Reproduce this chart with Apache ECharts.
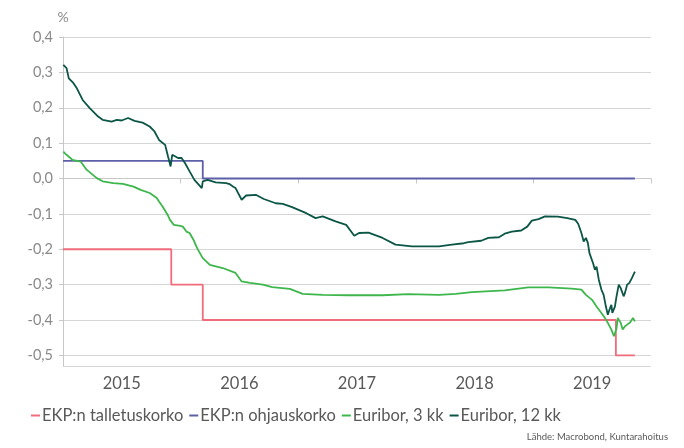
<!DOCTYPE html>
<html>
<head>
<meta charset="utf-8">
<script src="https://cdn.jsdelivr.net/npm/echarts@6/dist/echarts.min.js"></script>
<style>
  html, body { margin: 0; padding: 0; background: #ffffff; }
  #chart { width: 684px; height: 448px; }
</style>
</head>
<body>
<div id="chart"></div>
<script>
// ---- Data ----
const years = ['2015', '2016', '2017', '2018', '2019'];
const seriesNames = ['EKP:n talletuskorko', 'EKP:n ohjauskorko', 'Euribor, 3 kk', 'Euribor, 12 kk'];
const sourceText = 'Lähde: Macrobond, Kuntarahoitus';
const unitLabel = '%';

// ECB deposit rate (step changes)
const depositRate = [
  ['2015-01-01', -0.20], ['2015-12-03', -0.30], ['2016-03-10', -0.40],
  ['2019-09-14', -0.50], ['2019-11-12', -0.50]
];
// ECB main refinancing rate (step changes)
const refiRate = [
  ['2015-01-01', 0.05], ['2016-03-10', 0.00], ['2019-11-12', 0.00]
];
// Euribor 3 months
const euribor3m = [
  ['2015-01-02', 0.076], ['2015-01-12', 0.067], ['2015-01-30', 0.053], ['2015-02-25', 0.048],
  ['2015-03-15', 0.025], ['2015-04-16', 0.001], ['2015-05-04', -0.008], ['2015-06-06', -0.013],
  ['2015-07-06', -0.015], ['2015-08-08', -0.023], ['2015-08-30', -0.032], ['2015-09-27', -0.041],
  ['2015-10-19', -0.055], ['2015-10-26', -0.065], ['2015-11-06', -0.079], ['2015-11-22', -0.103],
  ['2015-11-29', -0.117], ['2015-12-03', -0.121], ['2015-12-11', -0.131], ['2015-12-31', -0.134],
  ['2016-01-08', -0.136], ['2016-01-19', -0.150], ['2016-01-29', -0.154], ['2016-02-10', -0.173],
  ['2016-02-19', -0.192], ['2016-02-24', -0.201], ['2016-03-10', -0.225], ['2016-04-01', -0.244],
  ['2016-05-11', -0.253], ['2016-06-20', -0.267], ['2016-07-09', -0.291], ['2016-08-04', -0.295],
  ['2016-09-13', -0.300], ['2016-10-12', -0.307], ['2016-12-06', -0.312], ['2017-01-15', -0.326],
  ['2017-03-18', -0.329], ['2017-06-06', -0.330], ['2017-09-20', -0.330], ['2017-12-09', -0.327],
  ['2018-03-14', -0.329], ['2018-05-05', -0.326], ['2018-06-24', -0.321], ['2018-10-04', -0.316],
  ['2018-12-16', -0.308], ['2019-02-17', -0.308], ['2019-04-30', -0.311], ['2019-05-30', -0.314],
  ['2019-06-13', -0.329], ['2019-07-02', -0.343], ['2019-07-16', -0.362], ['2019-07-31', -0.380],
  ['2019-08-11', -0.394], ['2019-08-20', -0.408], ['2019-08-31', -0.427], ['2019-09-08', -0.446],
  ['2019-09-16', -0.423], ['2019-09-20', -0.394], ['2019-09-29', -0.408], ['2019-10-05', -0.427],
  ['2019-10-12', -0.418], ['2019-10-19', -0.413], ['2019-10-28', -0.407], ['2019-11-06', -0.394],
  ['2019-11-12', -0.404]
];
// Euribor 12 months
const euribor12m = [
  ['2015-01-02', 0.321], ['2015-01-12', 0.312], ['2015-01-19', 0.283], ['2015-02-02', 0.270],
  ['2015-02-13', 0.255], ['2015-03-03', 0.222], ['2015-03-25', 0.199], ['2015-04-20', 0.175],
  ['2015-05-04', 0.166], ['2015-06-01', 0.161], ['2015-06-17', 0.166], ['2015-07-02', 0.164],
  ['2015-07-22', 0.171], ['2015-08-11', 0.163], ['2015-09-05', 0.158], ['2015-09-27', 0.147],
  ['2015-10-12', 0.133], ['2015-10-26', 0.109], ['2015-11-14', 0.095], ['2015-11-23', 0.062],
  ['2015-12-01', 0.034], ['2015-12-06', 0.067], ['2015-12-24', 0.058], ['2016-01-04', 0.058],
  ['2016-01-15', 0.043], ['2016-01-29', 0.020], ['2016-02-13', -0.004], ['2016-03-07', -0.027],
  ['2016-03-10', -0.008], ['2016-03-25', -0.004], ['2016-04-19', -0.011], ['2016-05-22', -0.013],
  ['2016-06-02', -0.016], ['2016-06-13', -0.023], ['2016-06-20', -0.027], ['2016-07-09', -0.060],
  ['2016-07-23', -0.048], ['2016-08-22', -0.046], ['2016-09-16', -0.058], ['2016-10-23', -0.070],
  ['2016-11-14', -0.072], ['2016-12-13', -0.081], ['2017-01-26', -0.098], ['2017-02-24', -0.112],
  ['2017-03-18', -0.107], ['2017-04-27', -0.121], ['2017-05-30', -0.131], ['2017-06-24', -0.162],
  ['2017-07-09', -0.154], ['2017-08-07', -0.153], ['2017-09-20', -0.168], ['2017-10-30', -0.187],
  ['2017-11-21', -0.189], ['2017-12-20', -0.192], ['2018-01-29', -0.192], ['2018-03-14', -0.192],
  ['2018-04-23', -0.187], ['2018-05-30', -0.183], ['2018-06-13', -0.180], ['2018-07-23', -0.176],
  ['2018-08-14', -0.168], ['2018-09-16', -0.166], ['2018-10-04', -0.156], ['2018-10-26', -0.150],
  ['2018-11-24', -0.147], ['2018-12-13', -0.136], ['2018-12-27', -0.119], ['2019-01-17', -0.115],
  ['2019-02-06', -0.107], ['2019-03-18', -0.108], ['2019-04-16', -0.112], ['2019-05-11', -0.117],
  ['2019-05-20', -0.128], ['2019-05-30', -0.154], ['2019-06-06', -0.178], ['2019-06-13', -0.168],
  ['2019-06-19', -0.182], ['2019-06-24', -0.211], ['2019-07-05', -0.239], ['2019-07-11', -0.258],
  ['2019-07-16', -0.249], ['2019-07-23', -0.286], ['2019-07-31', -0.314], ['2019-08-07', -0.329],
  ['2019-08-14', -0.362], ['2019-08-20', -0.385], ['2019-08-25', -0.371], ['2019-08-31', -0.357],
  ['2019-09-03', -0.380], ['2019-09-11', -0.362], ['2019-09-16', -0.333], ['2019-09-23', -0.300],
  ['2019-09-29', -0.310], ['2019-10-08', -0.333], ['2019-10-12', -0.324], ['2019-10-19', -0.300],
  ['2019-10-26', -0.295], ['2019-11-03', -0.281], ['2019-11-12', -0.263]
];

// ---- Helpers ----
function toYear(s) {
  const p = s.split('-').map(Number);
  const start = Date.UTC(p[0], 0, 1), end = Date.UTC(p[0] + 1, 0, 1);
  return p[0] + (Date.UTC(p[0], p[1] - 1, p[2]) - start) / (end - start);
}
const conv = arr => arr.map(d => [toYear(d[0]), d[1]]);

const FONT = 'Lato';
const colors = ['#F06C7C', '#5D5FA8', '#3DB74C', '#0B5646'];

const chart = echarts.init(document.getElementById('chart'), null, { renderer: 'canvas' });

const lineSeries = (name, data, color, step) => ({
  name: name,
  type: 'line',
  xAxisIndex: 0,
  yAxisIndex: 0,
  data: conv(data),
  step: step || false,
  showSymbol: false,
  symbol: 'none',
  lineStyle: { color: color, width: 1.8 },
  itemStyle: { color: color },
  animation: false
});

chart.setOption({
  animation: false,
  textStyle: { fontFamily: FONT },
  grid: { left: 63, right: 33, top: 37, bottom: 82, containLabel: false },
  xAxis: [
    {
      type: 'value', min: 2015, max: 2020, interval: 1,
      axisLabel: { show: false },
      axisLine: { show: true, lineStyle: { color: '#c8c8c8', width: 1 } },
      axisTick: { show: true, length: 5, lineStyle: { color: '#c8c8c8' } },
      splitLine: { show: false }
    },
    {
      type: 'category', data: years, position: 'bottom', boundaryGap: true,
      axisLine: { show: false }, axisTick: { show: false },
      axisLabel: { color: '#595959', fontSize: 16.5, margin: 9, fontFamily: FONT },
      splitLine: { show: false }
    }
  ],
  yAxis: {
    type: 'value', min: -0.53, max: 0.4, splitNumber: 9,
    name: unitLabel, nameLocation: 'end', nameGap: 13,
    nameTextStyle: { color: '#8a8a8a', fontSize: 14, fontFamily: FONT, align: 'center' },
    axisLine: { show: true, lineStyle: { color: '#c8c8c8', width: 1 } },
    axisTick: { show: true, length: 4, lineStyle: { color: '#c8c8c8' } },
    axisLabel: {
      color: '#8a8a8a', fontSize: 14.5, margin: 10, fontFamily: FONT,
      showMinLabel: false,
      formatter: v => v.toFixed(1).replace('.', ',')
    },
    splitLine: { show: true, lineStyle: { color: '#d6d6d6', width: 1 } }
  },
  legend: {
    left: 26, top: 402,
    icon: 'rect', itemWidth: 9, itemHeight: 2, itemGap: 6,
    textStyle: { color: '#595959', fontSize: 16.5, fontFamily: FONT, padding: [0, 0, 0, -3] },
    data: seriesNames
  },
  graphic: [{
    type: 'text', right: 16, top: 432,
    style: { text: sourceText, fill: '#595959', font: '9.5px ' + FONT, textAlign: 'right' }
  }],
  series: [
    lineSeries(seriesNames[0], depositRate, colors[0], 'end'),
    lineSeries(seriesNames[1], refiRate, colors[1], 'end'),
    lineSeries(seriesNames[2], euribor3m, colors[2]),
    lineSeries(seriesNames[3], euribor12m, colors[3])
  ]
});
</script>
</body>
</html>
